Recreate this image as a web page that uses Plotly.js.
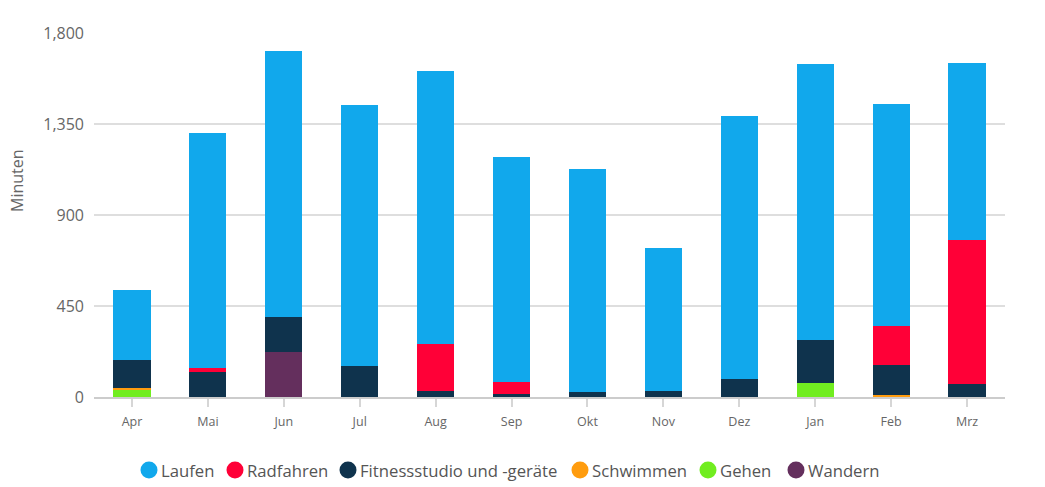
<!DOCTYPE html>
<html>
<head>
<meta charset="utf-8">
<script src="https://cdn.plot.ly/plotly-3.0.1.min.js"></script>
<style>
  html, body { margin: 0; padding: 0; background: #fff; }
  #chart { width: 1045px; height: 487px; }
</style>
</head>
<body>
<div id="chart"></div>
<script>
  // Minutes per activity and month.
  const months = ["Apr", "Mai", "Jun", "Jul", "Aug", "Sep", "Okt", "Nov", "Dez", "Jan", "Feb", "Mrz"];

  const laufen    = [346, 1162, 1317, 1293, 1352, 1114, 1105, 708, 1302, 1367, 1100, 877];
  const radfahren = [0, 22, 0, 0, 233, 60, 0, 0, 0, 0, 193, 713];
  const fitness   = [137, 122, 172, 152, 28, 13, 23, 28, 88, 213, 149, 63];
  const schwimmen = [12, 0, 0, 0, 0, 0, 0, 0, 0, 0, 8, 0];
  const gehen     = [33, 0, 0, 0, 0, 0, 0, 0, 0, 68, 0, 0];
  const wandern   = [0, 0, 223, 0, 0, 0, 0, 0, 0, 0, 0, 0];

  const yTicks = [0, 450, 900, 1350, 1800];

  // Stack order from the bottom up; the legend lists them the other way round.
  const series = [
    { name: "Wandern", values: wandern, color: "#642f5d" },
    { name: "Gehen", values: gehen, color: "#71ed20" },
    { name: "Schwimmen", values: schwimmen, color: "#ff9c0e" },
    { name: "Fitnessstudio und -geräte", values: fitness, color: "#0f334d" },
    { name: "Radfahren", values: radfahren, color: "#ff0037" },
    { name: "Laufen", values: laufen, color: "#11a8ec" },
  ];

  const FONT = "'Open Sans', 'DejaVu Sans', sans-serif";
  const GRID = "#dedede";
  const AXIS = "#cccccc";

  // Plot box in pixels (must agree with the margins below).
  const PLOT_L = 94, PLOT_R = 1005, PLOT_T = 33, PLOT_B = 397;
  const px2x = (px) => (px - PLOT_L) / (PLOT_R - PLOT_L);
  const px2y = (py) => (PLOT_B - py) / (PLOT_B - PLOT_T);

  const bars = series.map(function (s) {
    return {
      type: "bar",
      name: s.name,
      x: months,
      y: s.values,
      marker: { color: s.color, line: { width: 0 } },
      hovertemplate: "%{x}: %{y} min<extra>" + s.name + "</extra>",
    };
  });

  // Hand-built legend: round dots with tight spacing, like the original.
  // Native Plotly legends leave too much room between symbol and text.
  const LEGEND_Y = 470;
  const legendDotX = [149, 235, 348, 580, 708, 796];
  const legendOrder = series.slice().reverse();

  const shapes = legendOrder.map(function (s, i) {
    return {
      type: "circle",
      xref: "paper", yref: "paper",
      xsizemode: "pixel", ysizemode: "pixel",
      xanchor: px2x(legendDotX[i]), yanchor: px2y(LEGEND_Y),
      x0: -8.5, x1: 8.5, y0: -8.5, y1: 8.5,
      fillcolor: s.color,
      line: { width: 0 },
    };
  });

  const annotations = legendOrder.map(function (s, i) {
    return {
      xref: "paper", yref: "paper",
      x: px2x(legendDotX[i] + 10), y: px2y(LEGEND_Y),
      xanchor: "left", yanchor: "middle",
      text: s.name,
      showarrow: false,
      font: { family: FONT, size: 16.7, color: "#555555" },
    };
  });

  // Axis title sits above the plot's middle in the original, so place it by hand.
  annotations.push({
    xref: "paper", yref: "paper",
    x: px2x(17), y: px2y(181),
    xanchor: "center", yanchor: "middle",
    textangle: -90,
    text: "Minuten",
    showarrow: false,
    font: { family: FONT, size: 16, color: "#666666" },
  });

  const layout = {
    width: 1045,
    height: 487,
    paper_bgcolor: "#ffffff",
    plot_bgcolor: "#ffffff",
    font: { family: FONT, color: "#666666", size: 12 },
    margin: { l: PLOT_L, r: 1045 - PLOT_R, t: PLOT_T, b: 487 - PLOT_B, pad: 0 },
    barmode: "stack",
    bargap: 0.51,
    showlegend: false,
    shapes: shapes,
    annotations: annotations,
    xaxis: {
      type: "category",
      showgrid: false,
      showline: true,
      linecolor: AXIS,
      linewidth: 1.5,
      ticks: "outside",
      ticklen: 8,
      tickwidth: 2,
      tickcolor: "#d6d6d6",
      ticklabelstandoff: 4,
      tickfont: { family: FONT, size: 12.5, color: "#666666" },
      fixedrange: true,
    },
    yaxis: {
      range: [0, 1800],
      tickvals: yTicks,
      tickformat: ",",
      gridcolor: GRID,
      gridwidth: 1.5,
      zeroline: false,
      showline: false,
      tickfont: { family: FONT, size: 16, color: "#666666" },
      ticklabelstandoff: 9,
      automargin: false,
      fixedrange: true,
    },
  };

  Plotly.newPlot("chart", bars, layout, { displayModeBar: false, staticPlot: true });
</script>
</body>
</html>
